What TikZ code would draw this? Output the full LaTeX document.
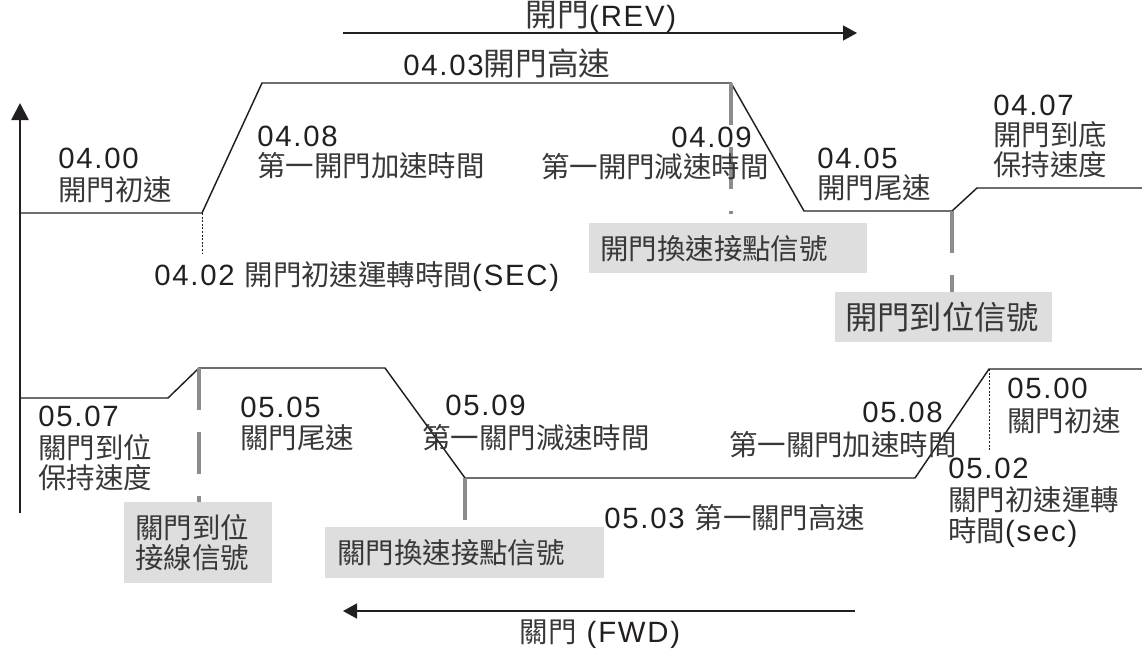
\documentclass[tikz,border=0pt]{standalone}
\usepackage{fontspec}
\setmainfont{Liberation Sans}[LetterSpace=6]
\newfontfamily\zhfont{Noto Sans CJK TC}[Scale=0.97]
\definecolor{ink}{HTML}{231F20}
\definecolor{zhink}{HTML}{3A3738}
\newcommand\zh[1]{{\zhfont\color{zhink}#1}}
\newcommand\zhbig[1]{{\zhfont\color{zhink}\fontsize{24.5}{26}\selectfont #1}}
\usetikzlibrary{arrows.meta}
\definecolor{sigline}{HTML}{8C8C8C}
\definecolor{sigfill}{HTML}{DEDEDE}

\begin{document}
\begin{tikzpicture}[x=0.75pt,y=-0.75pt,
  lbl/.style={anchor=base west, inner sep=0pt, text=ink, font=\fontsize{22}{26}\selectfont},
  lblr/.style={lbl, anchor=base east},
  lblc/.style={lbl, anchor=base},
  profile/.style={draw=ink, line width=1.1pt, line join=miter},
  axisline/.style={draw=ink, line width=2pt, -{Triangle[length=12.75pt,width=12.75pt]}},
  dirarrow/.style={draw=ink, line width=1.1pt, -{Triangle[length=10.5pt,width=11.25pt]}},
  signal/.style={draw=sigline, line width=3pt, dash pattern=on 31.5pt off 16.5pt},
  signalsolid/.style={draw=sigline, line width=3pt},
  timemark/.style={draw=ink, line width=0.7pt, dash pattern=on 1.5pt off 1.2pt},
  sigbox/.style={fill=sigfill, anchor=north west, inner ysep=0pt, align=left, text=ink,
    font=\fontsize{22}{22.5}\selectfont}
]
\useasboundingbox (0,0) rectangle (1142,650);

% corner points of the opening (upper) and closing (lower) speed profiles
\coordinate (U0) at (20,213);
\coordinate (U1) at (202,213);
\coordinate (U2) at (262,83);
\coordinate (U3) at (731,83);
\coordinate (U4) at (804,211);
\coordinate (U5) at (952,211);
\coordinate (U6) at (977,188);
\coordinate (U7) at (1142,188);
\coordinate (L0) at (20,398);
\coordinate (L1) at (168,398);
\coordinate (L2) at (199,368);
\coordinate (L3) at (385,368);
\coordinate (L4) at (465,478);
\coordinate (L5) at (915,478);
\coordinate (L6) at (989,369);
\coordinate (L7) at (1142,369);

% speed axis
\coordinate (A0) at (20,513);
\coordinate (A1) at (20,103);
\draw[axisline] (A0) -- (A1);

% direction arrows
\coordinate (R0) at (343,33);
\coordinate (R1) at (857,33);
\draw[dirarrow] (R0) -- (R1);
\coordinate (F0) at (855,611);
\coordinate (F1) at (343,611);
\draw[dirarrow] (F0) -- (F1);
\node[lblc] (rev) at (601,26.5) {\zhbig{開門}(REV)};
\node[lblc] (fwd) at (600,642) {\zh{關門} (FWD)};

% profiles
\draw[profile] (U0) -- (U1) -- (U2) -- (U3) -- (U4) -- (U5) -- (U6) -- (U7);
\draw[profile] (L0) -- (L1) -- (L2) -- (L3) -- (L4) -- (L5) -- (L6) -- (L7);

% signal boxes
\node[sigbox, inner xsep=8.25pt, text width=192pt, minimum height=37.5pt] (b1) at (589,223) {\zh{開門換速接點信號}};
\node[sigbox, inner xsep=7.5pt, text width=147.75pt, minimum height=37.5pt,
  font=\fontsize{25}{26}\selectfont] (b2) at (835,292) {\zh{開門到位信號}};
\node[sigbox, inner xsep=9pt, text width=191.25pt, minimum height=38.25pt] (b3) at (325,527) {\zh{關門換速接點信號}};
\node[sigbox, inner xsep=8.25pt, text width=94.5pt, minimum height=60.75pt] (b4) at (124,502) {\zh{關門到位}\\\zh{接線信號}};

% signal lines from the profiles to their boxes
\draw[signal, shorten >=6.75pt] (U3) -- (U3 |- b1.north);
\draw[signal] (U5) -- (U5 |- b2.north);
\draw[signal] (L2) -- (L2 |- b4.north);
\draw[signalsolid, shorten >=5.25pt] (L4) -- (L4 |- b3.north);

% initial-speed time marks
\coordinate (D1) at (202,253);
\draw[timemark] (U1) -- (D1);
\coordinate (D2) at (989,450);
\draw[timemark] (L6) -- (D2);

% opening parameters
\node[lbl] (p0400) at (58,168) {04.00};
\node[lbl] (t0400) at (58,200) {\zh{開門初速}};
\node[lbl] (p0408) at (257,146) {04.08};
\node[lbl] (t0408) at (257,176) {\zh{第一開門加速時間}};
\node[lbl] (p0403) at (403,75) {04.03\zhbig{開門高速}};
\node[lblr] (p0409) at (752,147) {04.09};
\node[lblr] (t0409) at (769,177) {\zh{第一開門減速時間}};
\node[lbl] (p0405) at (817,168) {04.05};
\node[lbl] (t0405) at (817,198) {\zh{開門尾速}};
\node[lbl] (p0407) at (993,115) {04.07};
\node[lbl] (t0407a) at (993,145) {\zh{開門到底}};
\node[lbl] (t0407b) at (993,175) {\zh{保持速度}};
\node[lbl] (p0402) at (154,285) {04.02 \zh{開門初速運轉時間}(SEC)};

% closing parameters
\node[lbl] (p0507) at (38,426) {05.07};
\node[lbl] (t0507a) at (38,458) {\zh{關門到位}};
\node[lbl] (t0507b) at (38,488) {\zh{保持速度}};
\node[lbl] (p0505) at (240,417) {05.05};
\node[lbl] (t0505) at (240,448) {\zh{關門尾速}};
\node[lbl] (p0509) at (445,415) {05.09};
\node[lbl] (t0509) at (422,448) {\zh{第一關門減速時間}};
\node[lblr] (p0508) at (943,422) {05.08};
\node[lblr] (t0508) at (957,455) {\zh{第一關門加速時間}};
\node[lbl] (p0500) at (1007,398) {05.00};
\node[lbl] (t0500) at (1007,431) {\zh{關門初速}};
\node[lbl] (p0502) at (948,478) {05.02};
\node[lbl] (t0502a) at (948,510) {\zh{關門初速運轉}};
\node[lbl] (t0502b) at (948,541) {\zh{時間}(sec)};
\node[lbl] (p0503) at (604,528) {05.03 \zh{第一關門高速}};
\end{tikzpicture}
\end{document}
